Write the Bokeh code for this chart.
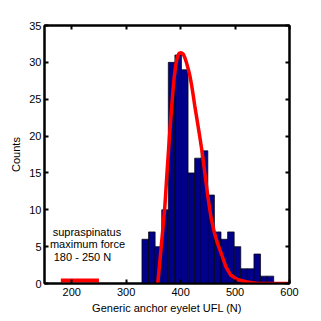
from bokeh.plotting import figure
from bokeh.models import LinearAxis, Range1d, FixedTicker, ColumnDataSource
from bokeh.embed import file_html
from bokeh.resources import INLINE
from bokeh.core.properties import value

# ---- data ----
counts = [6, 7, 5, 10, 30, 31, 29, 15, 17, 18, 12, 7, 6, 7, 5, 2, 2, 4, 1, 1]
bin_start = 329.0
bin_width = 12.1

fit_x = [358, 360, 365, 371, 375, 379, 383, 386, 388, 391, 394, 397, 401,
         405, 408, 411, 414, 417, 420, 423, 426, 430, 435, 440, 445, 450,
         456, 462, 468, 474, 483, 492, 504, 522, 540, 560, 600]
fit_y = [0.0, 1.5, 5.5, 10.4, 15.0, 19.4, 23.4, 26.2, 27.8, 29.6, 30.7, 31.2, 31.3,
         31.1, 30.6, 29.9, 29.1, 28.2, 27.0, 25.6, 24.1, 22.3, 20.0, 17.6, 14.7, 11.8,
         8.9, 6.9, 5.4, 4.2, 2.3, 1.15, 0.55, 0.2, 0.05, 0.0, 0.0]

force_x = [180, 250]
force_y = [0.4, 0.4]

x_ticks = [200, 300, 400, 500, 600]
y_ticks = [0, 5, 10, 15, 20, 25, 30, 35]

annot_text = ["supraspinatus", "maximum force", "180 - 250 N"]
annot_x = [165, 160, 167]
annot_y = [6.97, 5.35, 3.59]

x_label = "Generic anchor eyelet UFL (N)"
y_label = "Counts"

# ---- figure ----
FONT = "Liberation Sans"
p = figure(width=321, height=321, x_range=Range1d(150, 600), y_range=Range1d(0, 35),
           output_backend="svg", toolbar_location=None,
           min_border_left=44, min_border_right=32, min_border_top=25, min_border_bottom=38,
           x_axis_label=x_label, y_axis_label=y_label)
p.background_fill_color = "white"
p.border_fill_color = "white"
p.xgrid.visible = False
p.ygrid.visible = False
p.outline_line_color = "black"
p.outline_line_width = 2

left_edges = [bin_start + i * bin_width for i in range(len(counts))]
right_edges = [e + bin_width for e in left_edges]
src = ColumnDataSource(dict(left=left_edges, right=right_edges, top=counts,
                            bottom=[0] * len(counts)))
p.quad(left="left", right="right", top="top", bottom="bottom", source=src,
       fill_color="#00008A", line_color="black", line_width=0.7)

p.line(fit_x, fit_y, line_color="#FF0000", line_width=3.5)
p.line(force_x, force_y, line_color="#FF0000", line_width=4)

tsrc = ColumnDataSource(dict(x=annot_x, y=annot_y, t=annot_text))
p.text(x="x", y="y", text="t", source=tsrc, text_font=value(FONT),
       text_font_size="11px", text_align="left", text_baseline="middle",
       text_color="black")

def style_axis(ax):
    ax.axis_line_width = 2
    ax.axis_line_color = "black"
    ax.major_tick_in = 4
    ax.major_tick_out = 0
    ax.major_tick_line_width = 2
    ax.minor_tick_line_color = None
    ax.major_label_text_font = FONT
    ax.major_label_text_font_size = "11px"
    ax.major_label_text_color = "black"
    ax.axis_label_text_font = FONT
    ax.axis_label_text_font_size = "11px"
    ax.axis_label_text_font_style = "normal"
    ax.axis_label_text_color = "black"

p.xaxis.ticker = FixedTicker(ticks=x_ticks)
p.yaxis.ticker = FixedTicker(ticks=y_ticks)
style_axis(p.xaxis[0])
style_axis(p.yaxis[0])
p.xaxis[0].major_label_standoff = 4
p.xaxis[0].axis_label_standoff = 3
p.yaxis[0].major_label_standoff = 3
p.yaxis[0].axis_label_standoff = 4

# box ticks on top and right (no labels)
top_ax = LinearAxis(ticker=FixedTicker(ticks=x_ticks))
right_ax = LinearAxis(ticker=FixedTicker(ticks=y_ticks))
style_axis(top_ax)
style_axis(right_ax)
top_ax.major_label_overrides = {t: "" for t in x_ticks}
right_ax.major_label_overrides = {t: "" for t in y_ticks}
p.add_layout(top_ax, "above")
p.add_layout(right_ax, "right")

open("out.html", "w").write(file_html(p, INLINE))
